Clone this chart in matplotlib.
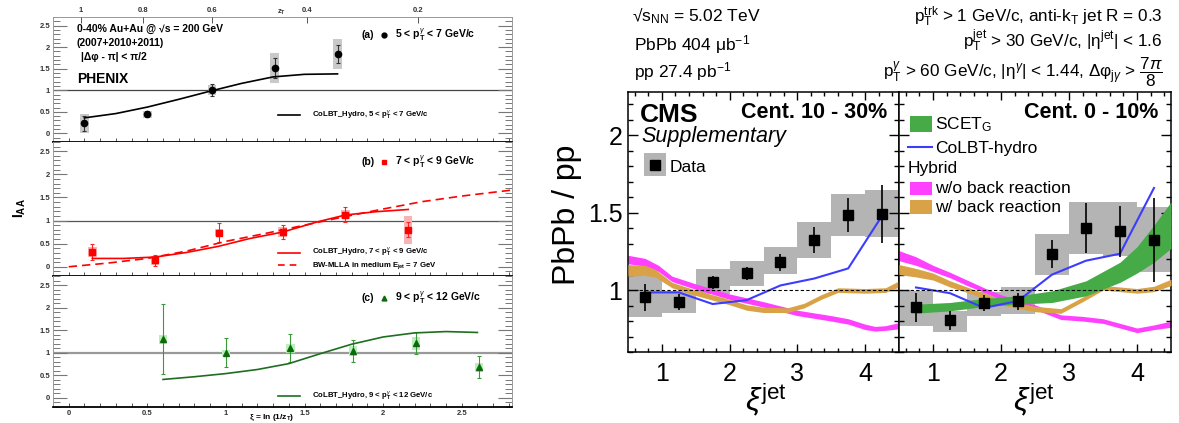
import matplotlib.pyplot as plt
from matplotlib.patches import Rectangle
from matplotlib.ticker import MultipleLocator, FixedLocator, FormatStrFormatter

plt.rcParams['font.family'] = ['Liberation Sans', 'DejaVu Sans']
plt.rcParams['mathtext.fontset'] = 'custom'
plt.rcParams['mathtext.rm'] = 'Liberation Sans'
plt.rcParams['mathtext.it'] = 'Liberation Sans:italic'
plt.rcParams['mathtext.bf'] = 'Liberation Sans:bold'

# ---------------------------
# PHENIX I_AA vs xi = ln(1/z_T)
# ---------------------------
zt_pos = [0.076, 0.471, 0.911, 1.516, 2.223]
zt_labels = ["1", "0.8", "0.6", "0.4", "0.2"]

# (a) 5 < pT < 7 GeV/c
xi_a = [0.10, 0.50, 0.91, 1.31, 1.71]
iaa_a = [0.23, 0.44, 1.01, 1.52, 1.85]
stat_a = [0.18, 0.07, 0.14, 0.23, 0.21]
sys_a = [0.23, 0.08, 0.12, 0.35, 0.35]
colbt_a_xi = [0.10, 0.30, 0.50, 0.70, 0.90, 1.10, 1.30, 1.50, 1.71]
colbt_a = [0.36, 0.46, 0.61, 0.79, 0.98, 1.16, 1.31, 1.37, 1.38]

# (b) 7 < pT < 9 GeV/c
xi_b = [0.15, 0.55, 0.955, 1.36, 1.76, 2.16]
iaa_b = [0.32, 0.14, 0.74, 0.75, 1.13, 0.80]
stat_b = [0.18, 0.12, 0.21, 0.15, 0.16, 0.16]
sys_b = [0.10, 0.10, 0.08, 0.10, 0.10, 0.30]
colbt_b_xi = [0.15, 0.35, 0.55, 0.75, 0.95, 1.15, 1.36, 1.58, 1.76, 1.95, 2.16]
colbt_b = [0.18, 0.18, 0.21, 0.31, 0.44, 0.61, 0.75, 0.97, 1.12, 1.19, 1.24]
bw_xi = [0.0, 0.25, 0.5, 0.75, 1.0, 1.25, 1.5, 1.75, 2.0, 2.25, 2.5, 2.82]
bw_mlla = [0.0, 0.08, 0.18, 0.34, 0.55, 0.72, 0.90, 1.08, 1.25, 1.41, 1.53, 1.66]

# (c) 9 < pT < 12 GeV/c
xi_c = [0.60, 1.00, 1.41, 1.81, 2.21, 2.61]
iaa_c = [1.30, 1.00, 1.10, 1.04, 1.21, 0.68]
stat_c = [0.78, 0.32, 0.31, 0.24, 0.24, 0.24]
sys_c = [0.10, 0.07, 0.10, 0.10, 0.15, 0.10]
colbt_c_xi = [0.60, 0.80, 1.00, 1.20, 1.40, 1.60, 1.80, 2.00, 2.20, 2.40, 2.60]
colbt_c = [0.41, 0.47, 0.54, 0.63, 0.76, 0.98, 1.19, 1.35, 1.44, 1.47, 1.45]

# ---------------------------
# CMS PbPb / pp vs xi_jet
# ---------------------------
xi_bins = [0.75, 1.25, 1.75, 2.25, 2.75, 3.25, 3.75, 4.25]

ratio_1030 = [0.953, 0.924, 1.05, 1.108, 1.18, 1.324, 1.486, 1.49]
stat_1030 = [0.086, 0.05, 0.04, 0.04, 0.054, 0.083, 0.108, 0.188]
sys_lo_1030 = [0.823, 0.855, 0.974, 1.028, 1.104, 1.21, 1.35, 1.34]
sys_hi_1030 = [1.093, 0.993, 1.136, 1.19, 1.277, 1.44, 1.62, 1.648]

ratio_010 = [0.888, 0.805, 0.916, 0.927, 1.231, 1.40, 1.38, 1.324]
stat_010 = [0.095, 0.063, 0.05, 0.057, 0.09, 0.16, 0.165, 0.27]
sys_lo_010 = [0.765, 0.73, 0.833, 0.845, 1.097, 1.233, 1.22, 1.115]
sys_hi_010 = [0.995, 0.866, 0.989, 1.021, 1.363, 1.568, 1.568, 1.536]

colbt_1030 = [0.985, 0.985, 0.91, 0.935, 1.03, 1.075, 1.14, 1.48]
colbt_010 = [1.017, 0.98, 0.885, 0.93, 1.10, 1.19, 1.235, 1.66]

# Hybrid model, without back reaction
wo_xi_1030 = [0.5, 0.75, 0.95, 1.15, 1.5, 2.0, 2.5, 3.0, 3.5, 3.75, 4.0, 4.15, 4.3, 4.5]
wo_lo_1030 = [1.17, 1.155, 1.12, 1.055, 1.005, 0.94, 0.89, 0.835, 0.80, 0.78, 0.745, 0.735, 0.74, 0.75]
wo_hi_1030 = [1.225, 1.205, 1.16, 1.09, 1.04, 0.975, 0.925, 0.87, 0.835, 0.815, 0.78, 0.765, 0.77, 0.79]
wo_xi_010 = [0.5, 0.75, 1.0, 1.25, 1.5, 1.75, 2.0, 2.25, 2.5, 2.88, 3.2, 3.5, 3.75, 4.0, 4.25, 4.5]
wo_lo_010 = [1.19, 1.16, 1.12, 1.08, 1.03, 0.985, 0.94, 0.905, 0.875, 0.81, 0.80, 0.785, 0.755, 0.725, 0.745, 0.76]
wo_hi_010 = [1.255, 1.215, 1.16, 1.115, 1.065, 1.015, 0.97, 0.935, 0.905, 0.84, 0.83, 0.815, 0.785, 0.755, 0.775, 0.80]

# Hybrid model, with back reaction
w_xi_1030 = [0.5, 0.75, 0.9, 1.15, 1.5, 2.0, 2.25, 2.5, 2.85, 3.1, 3.35, 3.6, 4.0, 4.3, 4.5]
w_lo_1030 = [1.09, 1.095, 1.085, 1.015, 0.965, 0.905, 0.87, 0.855, 0.855, 0.885, 0.94, 0.985, 0.98, 0.985, 1.02]
w_hi_1030 = [1.165, 1.16, 1.135, 1.05, 1.0, 0.94, 0.905, 0.89, 0.885, 0.915, 0.97, 1.015, 1.01, 1.015, 1.06]
w_xi_010 = [0.5, 0.75, 1.0, 1.25, 1.5, 2.0, 2.5, 2.88, 3.2, 3.5, 4.0, 4.25, 4.5]
w_lo_010 = [1.10, 1.085, 1.065, 1.02, 0.985, 0.905, 0.86, 0.85, 0.925, 1.0, 0.98, 0.99, 1.03]
w_hi_010 = [1.165, 1.14, 1.11, 1.06, 1.02, 0.94, 0.895, 0.88, 0.955, 1.03, 1.01, 1.025, 1.07]

# SCET_G (0-10% only)
scet_xi = [0.75, 1.25, 1.75, 2.25, 2.75, 3.25, 3.75, 4.0, 4.25, 4.5]
scet_lo = [0.851, 0.866, 0.894, 0.909, 0.92, 0.963, 1.05, 1.11, 1.18, 1.27]
scet_hi = [0.909, 0.92, 0.946, 0.963, 0.995, 1.06, 1.18, 1.28, 1.42, 1.57]

W, H = 1179, 423
fig = plt.figure(figsize=(W / 100, H / 100), dpi=100)


def px_rect(x0, y0, x1, y1):
    return [x0 / W, 1 - y1 / H, (x1 - x0) / W, (y1 - y0) / H]


def phenix_panel(rect, bottom_labels=False):
    ax = fig.add_axes(rect)
    ax.set_xlim(-0.1, 2.82)
    ax.set_ylim(-0.2, 2.7)
    ax.xaxis.set_major_locator(MultipleLocator(0.5))
    ax.xaxis.set_minor_locator(MultipleLocator(0.1))
    ax.yaxis.set_major_locator(FixedLocator([0, 0.5, 1, 1.5, 2, 2.5]))
    ax.yaxis.set_major_formatter(FormatStrFormatter('%g'))
    ax.yaxis.set_minor_locator(MultipleLocator(0.1))
    ax.xaxis.set_major_formatter(FormatStrFormatter('%g'))
    ax.tick_params(axis='y', which='both', direction='in', left=True, right=True,
                   color='#777777', labelcolor='#333333', labelsize=5.5, pad=2)
    ax.tick_params(axis='y', which='major', length=10, width=0.8)
    ax.tick_params(axis='y', which='minor', length=5, width=0.7)
    ax.tick_params(axis='x', which='both', direction='in', top=False, length=3,
                   width=0.7, color='#555555', labelcolor='#333333', labelsize=5.5,
                   labelbottom=bottom_labels, pad=2)
    for s in ['left', 'right', 'top']:
        ax.spines[s].set_color('#999999')
        ax.spines[s].set_linewidth(0.7)
    ax.spines['bottom'].set_color('black')
    ax.spines['bottom'].set_linewidth(1.3)
    for lab in ax.get_xticklabels() + ax.get_yticklabels():
        lab.set_fontweight('bold')
    return ax


def phenix_points(ax, x, y, stat, sys, marker, mcolor, ecolor, bcolor, ms):
    for xi, yi, si in zip(x, y, sys):
        ax.add_patch(Rectangle((xi - 0.027, yi - si), 0.054, 2 * si,
                               facecolor=bcolor, edgecolor='none', zorder=2))
    ax.errorbar(x, y, yerr=stat, fmt='none', ecolor=ecolor, elinewidth=0.8,
                capsize=1.6, capthick=0.8, zorder=3)
    ax.plot(x, y, marker, color=mcolor, ms=ms, ls='none', zorder=4)


def panel_title(ax, y, tag, marker, mcolor, text):
    ax.text(0.673, y, tag, transform=ax.transAxes, fontsize=7.5,
            fontweight='bold', va='center')
    ax.plot([0.721], [y], marker, color=mcolor, ms=3.5, transform=ax.transAxes,
            clip_on=False)
    ax.text(0.745, y, text, transform=ax.transAxes, fontsize=7.5,
            fontweight='bold', va='center')


def phenix_legend(ax, y, text, color, ls='-'):
    ax.plot([0.49, 0.538], [y, y], color=color, lw=1.2, ls=ls,
            transform=ax.transAxes)
    ax.text(0.564, y, text, transform=ax.transAxes, fontsize=5.6,
            fontweight='bold', va='center')


ax_a = phenix_panel(px_rect(53, 17, 512, 142))
ax_b = phenix_panel(px_rect(53, 142, 512, 276))
ax_c = phenix_panel(px_rect(53, 276, 512, 407), bottom_labels=True)
ax_b.spines['top'].set_visible(False)
ax_c.spines['top'].set_visible(False)

ax_a.axhline(1, color='#444444', lw=0.9, zorder=1)
ax_b.axhline(1, color='#555555', lw=0.9, zorder=1)
ax_c.axhline(1, color='#999999', lw=1.6, zorder=1)

phenix_points(ax_a, xi_a, iaa_a, stat_a, sys_a, 'o', 'black', '#333333', '#c9c9c9', 4.5)
ax_a.plot(colbt_a_xi, colbt_a, color='black', lw=1.2, zorder=3)
phenix_points(ax_b, xi_b, iaa_b, stat_b, sys_b, 's', '#ff0000', '#ff2222', '#f8b4b4', 4.5)
ax_b.plot(colbt_b_xi, colbt_b, color='#ff0000', lw=1.2, zorder=3)
ax_b.plot(bw_xi, bw_mlla, color='#ff0000', lw=1.2, ls=(0, (5, 3)), zorder=3)
phenix_points(ax_c, xi_c, iaa_c, stat_c, sys_c, '^', '#0b6b0b', '#3a9a3a', '#b8f0b8', 4.5)
ax_c.plot(colbt_c_xi, colbt_c, color='#1f6e1f', lw=1.2, zorder=3)

panel_title(ax_a, 0.856, '(a)', 'o', 'black', r'5 < $\mathbf{p}_\mathbf{T}^{\gamma}$ < 7 GeV/c')
panel_title(ax_b, 0.851, '(b)', 's', '#ff0000', r'7 < $\mathbf{p}_\mathbf{T}^{\gamma}$ < 9 GeV/c')
panel_title(ax_c, 0.832, '(c)', '^', '#0b6b0b', r'9 < $\mathbf{p}_\mathbf{T}^{\gamma}$ < 12 GeV/c')

phenix_legend(ax_a, 0.216, r'CoLBT_Hydro, 5 < $\mathbf{p}_\mathbf{T}^{\gamma}$ < 7 GeV/c', 'black')
phenix_legend(ax_b, 0.174, r'CoLBT_Hydro, 7 < $\mathbf{p}_\mathbf{T}^{\gamma}$ < 9 GeV/c', '#ff0000')
phenix_legend(ax_b, 0.080, r'BW-MLLA in medium $\mathbf{E}_\mathbf{jet}$ = 7 GeV', '#ff0000',
              ls=(0, (4, 3)))
phenix_legend(ax_c, 0.084, r'CoLBT_Hydro, 9 < $\mathbf{p}_\mathbf{T}^{\gamma}$ < 12 GeV/c', '#1f6e1f')

ax_a.text(0.052, 0.904, '0-40% Au+Au @ √s = 200 GeV', transform=ax_a.transAxes,
          fontsize=7.5, fontweight='bold', va='center')
ax_a.text(0.052, 0.792, '(2007+2010+2011)', transform=ax_a.transAxes,
          fontsize=7.5, fontweight='bold', va='center')
ax_a.text(0.062, 0.680, '|Δφ - π| < π/2', transform=ax_a.transAxes,
          fontsize=7.5, fontweight='bold', va='center')
ax_a.text(0.052, 0.504, 'PHENIX', transform=ax_a.transAxes,
          fontsize=10, fontweight='bold', va='center')

top = ax_a.twiny()
top.set_xlim(ax_a.get_xlim())
top.set_xticks(zt_pos, zt_labels)
top.tick_params(axis='x', direction='in', length=4, width=0.7, color='#555555',
                labelsize=5.5, labelcolor='#333333', pad=2.5)
for lab in top.get_xticklabels():
    lab.set_fontweight('bold')
for s in top.spines.values():
    s.set_visible(False)
fig.text(282 / W, 1 - 12 / H, r'z$_\mathbf{T}$', fontsize=5.5, fontweight='bold',
         ha='center', va='center', color='#333333')

fig.text(20 / W, 1 - 208 / H, r'I$_\mathbf{AA}$', rotation=90, fontsize=10,
         fontweight='bold', ha='center', va='center')
fig.text(272 / W, 1 - 417 / H, r'ξ = ln (1/z$_\mathbf{T}$)', fontsize=6,
         fontweight='bold', ha='center', va='center')

# ---------------------------
# CMS panels
# ---------------------------
GRAY = '#b4b4b4'
MAGENTA = '#ff40ff'
ORANGE = '#d9a246'
GREEN = '#46aa46'
BLUE = '#3c3cff'


def cms_panel(rect, ylabels=True):
    ax = fig.add_axes(rect)
    ax.set_xlim(0.5, 4.5)
    ax.set_ylim(0.6, 2.28)
    ax.xaxis.set_major_locator(FixedLocator([1, 2, 3, 4]))
    ax.xaxis.set_minor_locator(MultipleLocator(0.2))
    ax.yaxis.set_major_locator(FixedLocator([1, 1.5, 2]))
    ax.yaxis.set_minor_locator(MultipleLocator(0.1))
    ax.xaxis.set_major_formatter(FormatStrFormatter('%g'))
    ax.yaxis.set_major_formatter(FormatStrFormatter('%g'))
    ax.tick_params(which='both', direction='in', top=True, right=True, width=1.0,
                   labelsize=18)
    ax.tick_params(axis='y', which='major', length=7, pad=4, labelleft=ylabels)
    ax.tick_params(axis='y', which='minor', length=3.5)
    ax.tick_params(axis='x', which='major', length=5.5, pad=7)
    ax.tick_params(axis='x', which='minor', length=3)
    for s in ax.spines.values():
        s.set_linewidth(1.1)
    return ax


def cms_data(ax, ratio, stat, lo, hi):
    for x, l, h in zip(xi_bins, lo, hi):
        ax.add_patch(Rectangle((x - 0.25, l), 0.5, h - l, facecolor=GRAY,
                               edgecolor='none', zorder=1))
    ax.errorbar(xi_bins, ratio, yerr=stat, fmt='none', ecolor='black',
                elinewidth=1.2, capsize=0, zorder=6)
    ax.plot(xi_bins, ratio, 's', color='black', ms=7, zorder=7)


ax_l = cms_panel(px_rect(628, 92, 899, 352))
ax_r = cms_panel(px_rect(899, 92, 1171, 352), ylabels=False)

cms_data(ax_l, ratio_1030, stat_1030, sys_lo_1030, sys_hi_1030)
ax_l.fill_between(wo_xi_1030, wo_lo_1030, wo_hi_1030, color=MAGENTA, lw=0, zorder=2)
ax_l.fill_between(w_xi_1030, w_lo_1030, w_hi_1030, color=ORANGE, lw=0, zorder=3)
ax_l.plot(xi_bins, colbt_1030, color=BLUE, lw=1.5, zorder=4)
ax_l.axhline(1, color='black', lw=0.8, ls=(0, (3, 2)), zorder=5)

cms_data(ax_r, ratio_010, stat_010, sys_lo_010, sys_hi_010)
ax_r.fill_between(wo_xi_010, wo_lo_010, wo_hi_010, color=MAGENTA, lw=0, zorder=2)
ax_r.fill_between(w_xi_010, w_lo_010, w_hi_010, color=ORANGE, lw=0, zorder=3)
ax_r.fill_between(scet_xi, scet_lo, scet_hi, color=GREEN, lw=0, zorder=3)
ax_r.plot(xi_bins, colbt_010, color=BLUE, lw=1.5, zorder=4)
ax_r.axhline(1, color='black', lw=0.8, ls=(0, (3, 2)), zorder=5)

ax_l.text(0.044, 0.883, 'CMS', transform=ax_l.transAxes, fontsize=19,
          fontweight='bold', va='baseline')
ax_l.text(0.048, 0.809, 'Supplementary', transform=ax_l.transAxes, fontsize=15.5,
          style='italic', va='baseline')
ax_l.text(0.956, 0.899, 'Cent. 10 - 30%', transform=ax_l.transAxes, fontsize=15.5,
          fontweight='bold', ha='right', va='baseline')
ax_l.add_patch(Rectangle((0.059, 0.677), 0.081, 0.088, facecolor=GRAY,
                         edgecolor='none', transform=ax_l.transAxes, zorder=8))
ax_l.plot([0.0995], [0.721], 's', color='black', ms=7, transform=ax_l.transAxes, zorder=9)
ax_l.text(0.155, 0.693, 'Data', transform=ax_l.transAxes, fontsize=12.5, va='baseline')

ax_r.text(0.952, 0.899, 'Cent. 0 - 10%', transform=ax_r.transAxes, fontsize=15.5,
          fontweight='bold', ha='right', va='baseline')
ax_r.add_patch(Rectangle((0.040, 0.846), 0.081, 0.062, facecolor=GREEN,
                         edgecolor='none', transform=ax_r.transAxes, zorder=8))
ax_r.text(0.132, 0.857, r'SCET$_\mathrm{G}$', transform=ax_r.transAxes, fontsize=12.5,
          va='baseline')
ax_r.plot([0.033, 0.121], [0.788, 0.788], color=BLUE, lw=1.5, transform=ax_r.transAxes,
          zorder=8)
ax_r.text(0.132, 0.767, 'CoLBT-hydro', transform=ax_r.transAxes, fontsize=12.5,
          va='baseline')
ax_r.text(0.033, 0.687, 'Hybrid', transform=ax_r.transAxes, fontsize=12.5, va='baseline')
ax_r.add_patch(Rectangle((0.040, 0.604), 0.081, 0.050, facecolor=MAGENTA,
                         edgecolor='none', transform=ax_r.transAxes, zorder=8))
ax_r.text(0.132, 0.613, 'w/o back reaction', transform=ax_r.transAxes, fontsize=12.5,
          va='baseline')
ax_r.add_patch(Rectangle((0.040, 0.531), 0.081, 0.054, facecolor=ORANGE,
                         edgecolor='none', transform=ax_r.transAxes, zorder=8))
ax_r.text(0.132, 0.540, 'w/ back reaction', transform=ax_r.transAxes, fontsize=12.5,
          va='baseline')

fig.text(567 / W, 1 - 215 / H, 'PbPb / pp', rotation=90, fontsize=23,
         ha='center', va='center')
fig.text(766 / W, 1 - 382 / H, r'$\xi^{\mathrm{jet}}$', fontsize=23, ha='center', va='top')
fig.text(1034 / W, 1 - 382 / H, r'$\xi^{\mathrm{jet}}$', fontsize=23, ha='center', va='top')

fig.text(632 / W, 0.950, r'√$\mathrm{s_{NN}}$ = 5.02 TeV', fontsize=12.5, va='baseline')
fig.text(634 / W, 0.882, r'PbPb 404 μb$^{-1}$', fontsize=12.5, va='baseline')
fig.text(634 / W, 0.818, r'pp 27.4 pb$^{-1}$', fontsize=12.5, va='baseline')
fig.text(1163 / W, 0.948, r'p$_\mathrm{T}^\mathrm{trk}$ > 1 GeV/c, anti-k$_\mathrm{T}$ jet R = 0.3',
         fontsize=12.3, ha='right', va='baseline')
fig.text(1163 / W, 0.888, r'p$_\mathrm{T}^\mathrm{jet}$ > 30 GeV/c, |η$^\mathrm{jet}$| < 1.6',
         fontsize=12.3, ha='right', va='baseline')
fig.text(1163 / W, 0.817,
         r'p$_\mathrm{T}^{\gamma}$ > 60 GeV/c, |η$^{\gamma}$| < 1.44, Δφ$_{\mathrm{j}\gamma}$ > $\dfrac{7\pi}{8}$',
         fontsize=12.3, ha='right', va='baseline')

fig.savefig('out.png', dpi=100)
